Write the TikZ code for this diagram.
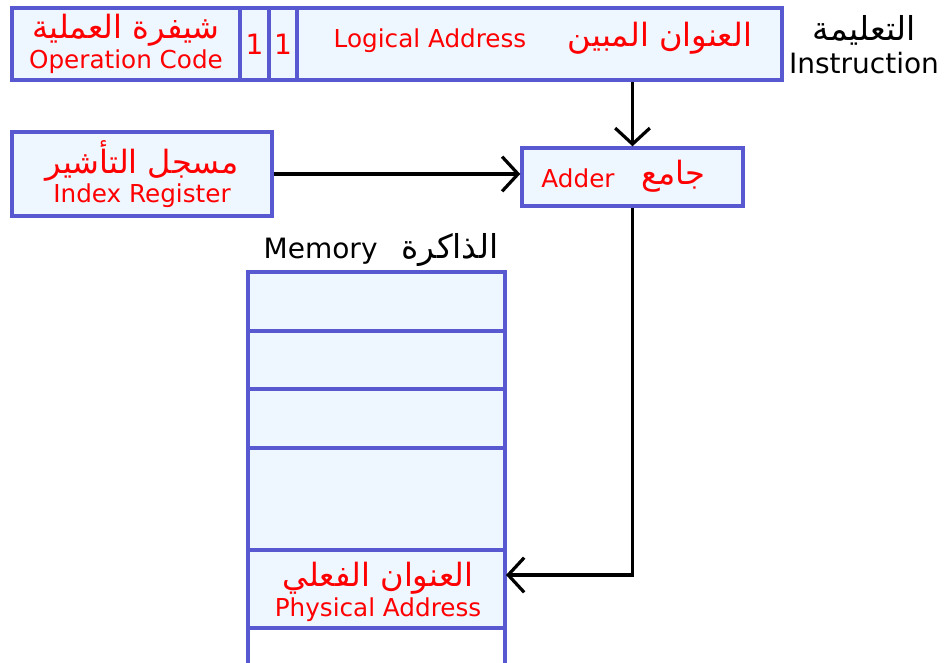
\documentclass[tikz,border=0pt]{standalone}
\usepackage{fontspec}
\setmainfont{DejaVu Sans}
\newfontfamily\arabicfont[Script=Arabic,Scale=1.3]{DejaVu Sans}
\TeXXeTstate=1
\usetikzlibrary{arrows.meta,positioning}
\definecolor{cellblue}{RGB}{88,88,208}
\definecolor{cellfill}{RGB}{238,246,255}
\newcommand{\artext}[1]{{\arabicfont\beginR #1\endR}}
\newcommand{\arlabel}[1]{{\fontsize{19}{24}\arabicfont\beginR #1\endR}}

\begin{document}
\begin{tikzpicture}[
  x=0.75pt, y=-0.75pt,
  cell/.style={draw=cellblue, fill=cellfill, line width=2.6pt, inner sep=0pt,
    text=red, align=center, font=\fontsize{18.5}{22}\selectfont},
  redtext/.style={text=red, inner sep=0pt, font=\fontsize{18.5}{22}\selectfont},
  blacktext/.style={inner sep=0pt, align=center, font=\fontsize{21}{25}\selectfont},
  link/.style={line width=2.4pt, -{Straight Barb[length=12pt,width=26pt]}}
]
\useasboundingbox (0,0) rectangle (945,663);

% Instruction word
\node[cell, minimum width=171pt, minimum height=54pt] (opcode) at (126,44)
  {\artext{شيفرة العملية}\\Operation Code};
\node[cell, minimum width=21.75pt, minimum height=54pt, font=\fontsize{21}{24}\selectfont] (bita) at (254.5,44) {1};
\node[cell, minimum width=21pt, minimum height=54pt, font=\fontsize{21}{24}\selectfont] (bitb) at (283,44) {1};
\node[cell, minimum width=363.75pt, minimum height=54pt] (logic) at (539.5,44) {};
\node[redtext] (logicen) at (430,41) {Logical Address};
\node[redtext] (logicar) at (660,38) {\artext{العنوان المبين}};
\node[blacktext] (instr) at (864,45) {\arlabel{التعليمة}\\Instruction};

% Index register and adder
\node[cell, minimum width=195pt, minimum height=63pt] (index) at (142,174)
  {\artext{مسجل التأشير}\\Index Register};
\node[cell, minimum width=165.75pt, minimum height=43.5pt] (adder) at (632.5,177) {};
\node[redtext] (adderen) at (578,178) {Adder};
\node[redtext] (adderar) at (673,176) {\artext{جامع}};

% Memory
\node[blacktext] (memlbl) at (381,250) {Memory\hspace{18pt}\arlabel{الذاكرة}};
\node[cell, minimum width=192.75pt, minimum height=44.25pt] (mem1) at (376.5,301.5) {};
\node[cell, minimum width=192.75pt, minimum height=43.5pt] (mem2) at (376.5,360) {};
\node[cell, minimum width=192.75pt, minimum height=44.25pt] (mem3) at (376.5,418.5) {};
\node[cell, minimum width=192.75pt, minimum height=76.5pt] (mem4) at (376.5,499) {};
\node[cell, minimum width=192.75pt, minimum height=58.5pt] (mem5) at (376.5,589) {};
\node[cell, draw=none, fill=none] (physlbl) at (378,592)
  {\artext{العنوان الفعلي}\\Physical Address};
\coordinate (memendl) at (248,663);
\coordinate (memendr) at (505,663);
\draw[cellblue, line width=2.6pt] (memendl |- mem5.center) -- (memendl);
\draw[cellblue, line width=2.6pt] (memendr |- mem5.center) -- (memendr);

% Connectors
\coordinate (physin) at (506,575);
\draw[link] (adder |- logic.south) -- (adder.north);
\draw[link] (index.east) -- (adder.west |- index.east);
\draw[link] (adder.south) |- (physin);

\end{tikzpicture}
\end{document}
